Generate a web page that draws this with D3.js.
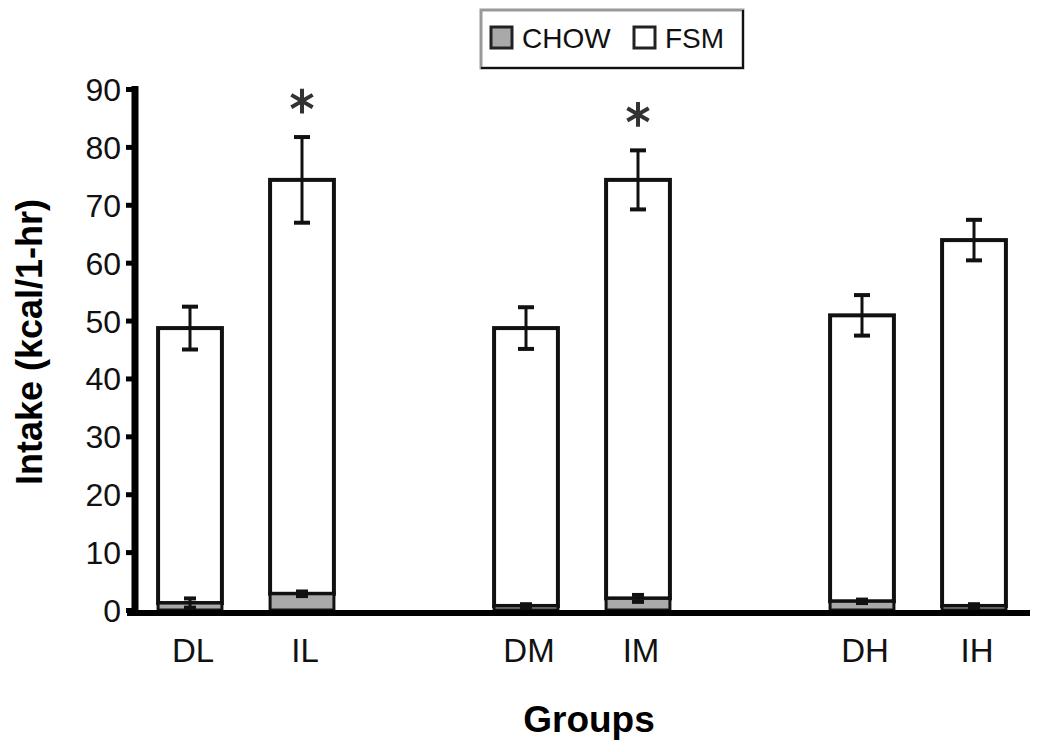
<!DOCTYPE html>
<html>
<head>
<meta charset="utf-8">
<script src="https://cdn.jsdelivr.net/npm/d3@7"></script>
<style>
  body { margin: 0; background: #fff; }
  text { font-family: "Liberation Sans", Arial, sans-serif; }
</style>
</head>
<body>
<svg width="1050" height="752"></svg>
<script>
// groups and values (kcal in 1 hr)
var groups   = ["DL", "IL", "DM", "IM", "DH", "IH"];
var chow     = [1.2, 2.8, 0.7, 2.0, 1.5, 0.7];
var chowErr  = [0.8, 0.4, 0.3, 0.6, 0.3, 0.3];
var total    = [48.7, 74.3, 48.7, 74.3, 50.9, 63.9];   // chow + fsm
var fsm      = total.map(function(t, i){ return +(t - chow[i]).toFixed(1); });
var totalErr = [3.7, 7.4, 3.6, 5.1, 3.5, 3.5];
var signif   = [false, true, false, true, false, false];
var yTicks   = [0, 10, 20, 30, 40, 50, 60, 70, 80, 90];
var legendLabels = ["CHOW", "FSM"];

var chowColor = "#a9a9a9";

var svg = d3.select("svg");

// 8 slots, two of them empty gaps between the pairs
var slot = function(i){ return i + Math.floor(i / 2); };
var x = d3.scaleBand()
  .domain(d3.range(8))
  .range([134, 1030])
  .paddingInner(0.43)
  .paddingOuter(0.215);

var y = d3.scaleLinear()
  .domain([0, 90])
  .range([610, 89]);

var data = groups.map(function(g, i){
  return {name: g, chow: chow[i], fsm: fsm[i], chowErr: chowErr[i],
          totalErr: totalErr[i], sig: signif[i], slot: slot(i)};
});

var bw = x.bandwidth();

// FSM (stacked on chow)
var bars = svg.append("g");
bars.selectAll("rect.fsm")
  .data(data)
  .enter().append("rect")
    .attr("class", "fsm")
    .attr("x", function(d){ return x(d.slot); })
    .attr("width", bw)
    .attr("y", function(d){ return y(d.chow + d.fsm); })
    .attr("height", function(d){ return y(d.chow) - y(d.chow + d.fsm); })
    .style("fill", "#fff")
    .style("stroke", "#111")
    .style("stroke-width", 4);

bars.selectAll("rect.chow")
  .data(data)
  .enter().append("rect")
    .attr("class", "chow")
    .attr("x", function(d){ return x(d.slot); })
    .attr("width", bw)
    .attr("y", function(d){ return y(d.chow); })
    .attr("height", function(d){ return y(0) - y(d.chow); })
    .style("fill", chowColor)
    .style("stroke", "#111")
    .style("stroke-width", 3);

// error bars
function errorBars(cls, mean, err, cap, sw){
  var g = svg.append("g").attr("class", cls);
  var sel = g.selectAll("g").data(data).enter().append("g");
  sel.append("line")
    .attr("x1", function(d){ return x(d.slot) + bw / 2; })
    .attr("x2", function(d){ return x(d.slot) + bw / 2; })
    .attr("y1", function(d){ return y(mean(d) + err(d)); })
    .attr("y2", function(d){ return y(mean(d) - err(d)); })
    .style("stroke", "#111").style("stroke-width", sw);
  [1, -1].forEach(function(s){
    sel.append("line")
      .attr("x1", function(d){ return x(d.slot) + bw / 2 - cap; })
      .attr("x2", function(d){ return x(d.slot) + bw / 2 + cap; })
      .attr("y1", function(d){ return y(mean(d) + s * err(d)); })
      .attr("y2", function(d){ return y(mean(d) + s * err(d)); })
      .style("stroke", "#111").style("stroke-width", 4);
  });
}
errorBars("err-total", function(d){ return d.chow + d.fsm; }, function(d){ return d.totalErr; }, 8, 3);
errorBars("err-chow", function(d){ return d.chow; }, function(d){ return d.chowErr; }, 6, 3);

// significance stars
svg.append("g").selectAll("path")
  .data(data.filter(function(d){ return d.sig; }))
  .enter().append("path")
    .attr("d", d3.symbol(d3.symbolAsterisk, 430))
    .attr("transform", function(d){
      return "translate(" + (x(d.slot) + bw / 2) + "," + (y(d.chow + d.fsm + d.totalErr) - 36) + ")";
    })
    .style("fill", "none")
    .style("stroke", "#333")
    .style("stroke-width", 4);

// y axis
var yAxis = d3.axisLeft(y).tickValues(yTicks).tickSize(9).tickPadding(5);
var gy = svg.append("g").attr("transform", "translate(135,0)").call(yAxis);
gy.select(".domain").remove();
gy.append("line").attr("x1", 0).attr("x2", 0).attr("y1", 86).attr("y2", 616)
  .style("stroke", "#000").style("stroke-width", 7);
gy.selectAll(".tick line").style("stroke", "#000").style("stroke-width", 5);
gy.selectAll(".tick text")
  .style("font-size", "32px")
  .style("fill", "#111")
  .attr("dy", "0.36em");

// x axis
svg.append("line").attr("x1", 127).attr("x2", 1030).attr("y1", 613).attr("y2", 613)
  .style("stroke", "#000").style("stroke-width", 6);

svg.append("g").selectAll("text")
  .data(data)
  .enter().append("text")
    .attr("x", function(d){ return x(d.slot) + bw / 2 + 3; })
    .attr("y", 662)
    .attr("text-anchor", "middle")
    .style("font-size", "33px")
    .style("fill", "#111")
    .text(function(d){ return d.name; });

// axis titles
svg.append("text")
  .attr("x", 589).attr("y", 732)
  .attr("text-anchor", "middle")
  .style("font-size", "37px").style("font-weight", "bold")
  .text("Groups");

svg.append("text")
  .attr("transform", "translate(42,342) rotate(-90)")
  .attr("text-anchor", "middle")
  .style("font-size", "36px").style("font-weight", "bold")
  .text("Intake (kcal/1-hr)");

// legend
var lg = svg.append("g");
lg.append("rect").attr("x", 481).attr("y", 10).attr("width", 262).attr("height", 58)
  .style("fill", "#fff").style("stroke", "#999").style("stroke-width", 3);
lg.append("path").attr("d", "M743,10V68H481")
  .style("fill", "none").style("stroke", "#111").style("stroke-width", 2);
var legX = [491, 634];
lg.selectAll("rect.sw")
  .data(legendLabels)
  .enter().append("rect")
    .attr("class", "sw")
    .attr("x", function(d, i){ return legX[i]; })
    .attr("y", 27)
    .attr("width", 21).attr("height", 21)
    .style("fill", function(d, i){ return i === 0 ? chowColor : "#fff"; })
    .style("stroke", "#222").style("stroke-width", 3);
lg.selectAll("text")
  .data(legendLabels)
  .enter().append("text")
    .attr("x", function(d, i){ return legX[i] + 31; })
    .attr("y", 48)
    .style("font-size", "28px")
    .style("fill", "#111")
    .text(function(d){ return d; });
</script>
</body>
</html>
